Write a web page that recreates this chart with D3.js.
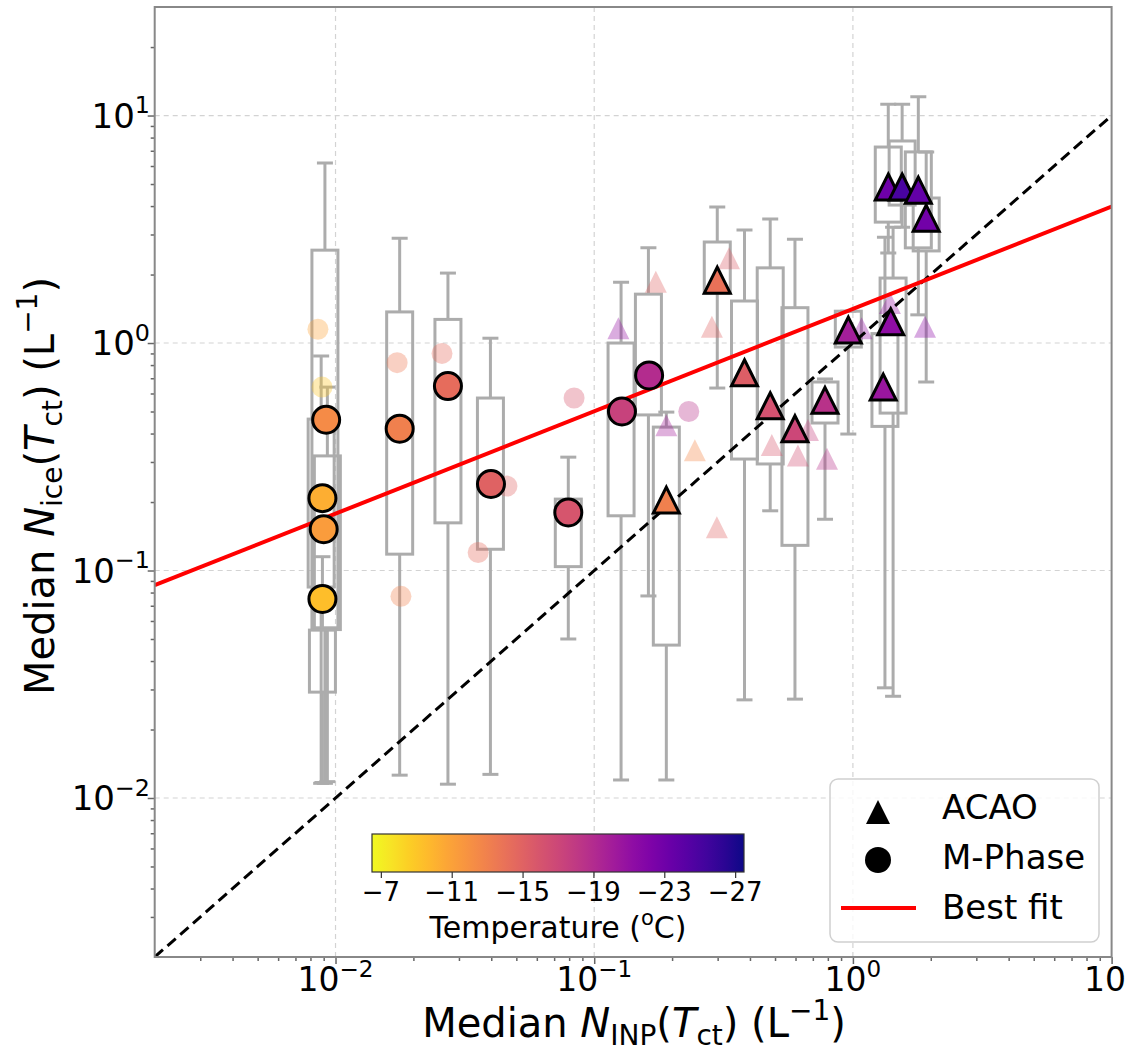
<!DOCTYPE html>
<html>
<head>
<meta charset="utf-8">
<script src="https://cdn.jsdelivr.net/npm/d3@7"></script>
<style>
  body { margin: 0; background: #fff; }
  text { font-family: "DejaVu Sans", sans-serif; white-space: pre; }
</style>
</head>
<body>
<svg id="chart"></svg>
<script>
// ---- data ----
// box plots of N_ice : x position, lower whisker, Q1, Q3, upper whisker
var boxX    = [0.0091, 0.0088, 0.0093, 0.0089, 0.0177, 0.0272, 0.0397, 0.0794, 0.127, 0.162, 0.19, 0.299, 0.381, 0.479, 0.597, 0.78, 0.96, 1.37, 1.55, 1.79, 1.92, 1.43, 1.33];
var boxLow  = [0.0116, 0.0116, 0.0118, 0.0117, 0.0126, 0.0115, 0.0127, 0.050, 0.012, 0.0773, 0.012, 0.634, 0.027, 0.183, 0.0272, 0.168, 0.398, 2.49, 3.23, 1.33, 0.674, 0.028, 0.0305];
var boxQ1   = [0.056, 0.0846, 0.055, 0.0292, 0.118, 0.162, 0.124, 0.104, 0.174, 0.483, 0.047, 1.66, 0.309, 0.294, 0.129, 0.445, 0.96, 3.40, 4.04, 2.62, 2.54, 0.492, 0.43];
var boxQ3   = [2.56, 0.463, 0.319, 0.0547, 1.37, 1.27, 0.573, 0.206, 1.0, 1.64, 0.427, 2.78, 1.53, 2.14, 1.43, 0.674, 1.38, 7.27, 7.73, 6.92, 4.34, 1.93, 1.1];
var boxHigh = [6.18, 0.877, 0.64, 0.115, 2.89, 2.03, 1.05, 0.315, 1.85, 2.62, 0.497, 3.96, 3.14, 3.51, 2.86, 0.695, 1.38, 11.2, 11.2, 12.1, 6.92, 3.23, 2.92];

// M-Phase medians (circles)
var mphaseX = [0.0092, 0.0089, 0.0090, 0.0089, 0.0177, 0.0272, 0.0399, 0.0794, 0.128, 0.163];
var mphaseY = [0.46, 0.208, 0.152, 0.075, 0.42, 0.647, 0.24, 0.18, 0.50, 0.72];
var mphaseT = [-12.4, -10.3, -11.3, -9.4, -13.0, -14.3, -15.1, -16.0, -17.4, -18.9];

// ACAO medians (triangles)
var acaoX = [0.19, 0.299, 0.381, 0.479, 0.597, 0.78, 0.96, 1.37, 1.55, 1.79, 1.92, 1.40, 1.31];
var acaoY = [0.204, 1.89, 0.74, 0.53, 0.42, 0.56, 1.14, 4.85, 4.85, 4.7, 3.54, 1.24, 0.64];
var acaoT = [-13.0, -14.0, -15.3, -16.2, -17.0, -18.5, -20.0, -23.1, -25.0, -23.7, -22.9, -21.2, -20.6];

// faint points (other cases)
var faintCircleX = [0.00855, 0.00887, 0.0173, 0.0179, 0.0258, 0.046, 0.0356, 0.0836, 0.232];
var faintCircleY = [1.15, 0.64, 0.82, 0.077, 0.90, 0.235, 0.12, 0.573, 0.50];
var faintCircleT = [-11, -9, -13.5, -13, -14.5, -15, -14.5, -16, -18.5];
var faintTriX = [0.124, 0.19, 0.245, 0.298, 0.173, 0.332, 0.285, 0.486, 0.613, 0.67, 0.794, 1.08, 1.39, 1.90];
var faintTriY = [1.16, 0.435, 0.338, 0.155, 1.86, 2.36, 1.18, 0.356, 0.32, 0.415, 0.31, 1.16, 1.5, 1.18];
var faintTriT = [-21, -20, -12.5, -15, -15, -15.5, -15, -16, -16.5, -17.5, -18.5, -21, -21, -21.5];

// best fit in log space: log10(y) = fitA + fitB * log10(x)
var fitA = 0.15, fitB = 0.45;

var xTicks = [0.01, 0.1, 1, 10];
var xTickExp = ["\u22122", "\u22121", "0", ""];   // last one is cut at the figure edge
var yTicks = [0.01, 0.1, 1, 10];
var yTickExp = ["\u22122", "\u22121", "0", "1"];
var cbTicks = [-7, -11, -15, -19, -23, -27];

// ---- layout ----
var W = 1127, H = 1054;
var margin = { top: 7, right: 15.4, bottom: 97, left: 154.7 };
var svg = d3.select("#chart").attr("width", W).attr("height", H);

var x = d3.scaleLog().domain([0.002, 10]).range([margin.left, W - margin.right]);
var y = d3.scaleLog().domain([0.002, 30]).range([H - margin.bottom, margin.top]);

var tempColor = function(t) { return d3.interpolatePlasma((t + 27.5) / 21); };

svg.append("clipPath").attr("id", "plotclip")
  .append("rect")
  .attr("x", x.range()[0]).attr("y", y.range()[1])
  .attr("width", x.range()[1] - x.range()[0])
  .attr("height", y.range()[0] - y.range()[1]);

// gridlines
var grid = svg.append("g").attr("stroke", "#d3d3d3").attr("stroke-width", 1.2).attr("stroke-dasharray", "5,4");
grid.selectAll(".gx").data(xTicks.slice(0, 3)).enter().append("line")
  .attr("x1", d => x(d)).attr("x2", d => x(d))
  .attr("y1", y.range()[0]).attr("y2", y.range()[1]);
grid.selectAll(".gy").data(yTicks).enter().append("line")
  .attr("y1", d => y(d)).attr("y2", d => y(d))
  .attr("x1", x.range()[0]).attr("x2", x.range()[1]);

var plot = svg.append("g").attr("clip-path", "url(#plotclip)");

// boxes
var bw = 26, cw = 16;
var boxes = plot.append("g").attr("stroke", "#acacac").attr("stroke-width", 3).attr("fill", "none");
boxX.forEach(function(bx, i) {
  var cx = x(bx);
  var g = boxes.append("g");
  g.append("line").attr("x1", cx).attr("x2", cx).attr("y1", y(boxQ3[i])).attr("y2", y(boxHigh[i]));
  g.append("line").attr("x1", cx).attr("x2", cx).attr("y1", y(boxQ1[i])).attr("y2", y(boxLow[i]));
  g.append("line").attr("x1", cx - cw / 2).attr("x2", cx + cw / 2).attr("y1", y(boxHigh[i])).attr("y2", y(boxHigh[i]));
  g.append("line").attr("x1", cx - cw / 2).attr("x2", cx + cw / 2).attr("y1", y(boxLow[i])).attr("y2", y(boxLow[i]));
  g.append("rect").attr("x", cx - bw / 2).attr("width", bw)
    .attr("y", y(boxQ3[i])).attr("height", y(boxQ1[i]) - y(boxQ3[i]));
});

function triPath(h) { return "M0," + (-h) + "L" + h + "," + h + "L" + (-h) + "," + h + "Z"; }

// faint markers
plot.append("g").selectAll("circle").data(faintCircleX).enter().append("circle")
  .attr("cx", d => x(d)).attr("cy", (d, i) => y(faintCircleY[i])).attr("r", 10.5)
  .attr("fill", (d, i) => tempColor(faintCircleT[i])).attr("opacity", 0.35);
plot.append("g").selectAll("path").data(faintTriX).enter().append("path")
  .attr("d", triPath(11))
  .attr("transform", (d, i) => "translate(" + x(d) + "," + y(faintTriY[i]) + ")")
  .attr("fill", (d, i) => tempColor(faintTriT[i])).attr("opacity", 0.35);

// 1:1 line and best fit
var line = d3.line().x(d => x(d[0])).y(d => y(d[1]));
plot.append("path").attr("d", line(x.domain().map(v => [v, v])))
  .attr("stroke", "#000").attr("stroke-width", 3).attr("stroke-dasharray", "11,6").attr("fill", "none");
plot.append("path").attr("d", line(x.domain().map(v => [v, Math.pow(10, fitA + fitB * Math.log10(v))])))
  .attr("stroke", "#ff0000").attr("stroke-width", 4).attr("fill", "none");

// solid markers
plot.append("g").selectAll("circle").data(mphaseX).enter().append("circle")
  .attr("cx", d => x(d)).attr("cy", (d, i) => y(mphaseY[i])).attr("r", 13.5)
  .attr("fill", (d, i) => tempColor(mphaseT[i])).attr("stroke", "#000").attr("stroke-width", 3);
plot.append("g").selectAll("path").data(acaoX).enter().append("path")
  .attr("d", triPath(13))
  .attr("transform", (d, i) => "translate(" + x(d) + "," + y(acaoY[i]) + ")")
  .attr("fill", (d, i) => tempColor(acaoT[i])).attr("stroke", "#000").attr("stroke-width", 3)
  .attr("stroke-linejoin", "miter");

// rich text helper (sub/superscripts)
function rich(t, parts, size) {
  var shift = 0;
  parts.forEach(function(p) {
    if (p.t === "") return;
    var target = p.sub ? 0.2 * size : p.sup ? -0.42 * size : 0;
    var ts = t.append("tspan").text(p.t).attr("dy", target - shift);
    shift = target;
    if (p.sub || p.sup) ts.attr("font-size", 0.7 * size);
    if (p.it) ts.attr("font-style", "italic");
  });
}

// axes
var axisColor = "#666";
function minorTicks(domain) {
  var out = [];
  for (var e = -3; e <= 1; e++) for (var m = 2; m <= 9; m++) {
    var v = m * Math.pow(10, e);
    if (v > domain[0] && v < domain[1]) out.push(v);
  }
  return out;
}
var xAxis = svg.append("g").attr("transform", "translate(0," + y.range()[0] + ")");
xAxis.call(d3.axisBottom(x).tickValues(xTicks).tickSize(7).tickFormat(""));
xAxis.append("g").call(d3.axisBottom(x).tickValues(minorTicks(x.domain())).tickSize(4).tickFormat(""));
var yAxis = svg.append("g").attr("transform", "translate(" + x.range()[0] + ",0)");
yAxis.call(d3.axisLeft(y).tickValues(yTicks).tickSize(7).tickFormat(""));
yAxis.append("g").call(d3.axisLeft(y).tickValues(minorTicks(y.domain())).tickSize(4).tickFormat(""));
svg.selectAll(".domain").remove();
svg.selectAll(".tick line").attr("stroke", axisColor).attr("stroke-width", 1.5);

var tickSize = 33;
xTicks.forEach(function(v, i) {
  var edge = xTickExp[i] === "";
  var t = svg.append("text").attr("x", edge ? W - 1 : x(v)).attr("y", 991)
    .attr("text-anchor", edge ? "end" : "middle")
    .attr("font-size", tickSize).attr("fill", "#000");
  rich(t, [{ t: "10" }, { t: xTickExp[i], sup: true }], tickSize);
});
yTicks.forEach(function(v, i) {
  var t = svg.append("text").attr("x", 150).attr("y", y(v) + 12).attr("text-anchor", "end")
    .attr("font-size", 34).attr("fill", "#000");
  rich(t, [{ t: "10" }, { t: yTickExp[i], sup: true }], 34);
});

// frame
svg.append("rect").attr("x", x.range()[0]).attr("y", y.range()[1])
  .attr("width", x.range()[1] - x.range()[0]).attr("height", y.range()[0] - y.range()[1])
  .attr("fill", "none").attr("stroke", "#888").attr("stroke-width", 2);

// axis titles
var titleSize = 40;
var xt = svg.append("text").attr("x", 634).attr("y", 1037).attr("text-anchor", "middle").attr("font-size", titleSize);
rich(xt, [{ t: "Median " }, { t: "N", it: true }, { t: "INP", sub: true }, { t: "(" }, { t: "T", it: true },
  { t: "ct", sub: true }, { t: ") (L" }, { t: "\u22121", sup: true }, { t: ")" }], titleSize);
var yt = svg.append("text").attr("transform", "translate(54,486) rotate(-90)").attr("text-anchor", "middle").attr("font-size", titleSize);
rich(yt, [{ t: "Median " }, { t: "N", it: true }, { t: "ice", sub: true }, { t: "(" }, { t: "T", it: true },
  { t: "ct", sub: true }, { t: ") (L" }, { t: "\u22121", sup: true }, { t: ")" }], titleSize);

// colorbar
var cb = d3.scaleLinear().domain([-6.5, -27.5]).range([372, 744]);
var cbTop = 834, cbH = 38;
var grad = svg.append("defs").append("linearGradient").attr("id", "plasmaGrad");
d3.range(0, 21).forEach(function(i) {
  var o = i / 20;
  grad.append("stop").attr("offset", o).attr("stop-color", tempColor(cb.invert(cb.range()[0] + o * (cb.range()[1] - cb.range()[0]))));
});
svg.append("rect").attr("x", cb.range()[0]).attr("y", cbTop).attr("width", cb.range()[1] - cb.range()[0]).attr("height", cbH)
  .attr("fill", "url(#plasmaGrad)").attr("stroke", "#333").attr("stroke-width", 1.2);
var cbAxis = svg.append("g").attr("transform", "translate(0," + (cbTop + cbH) + ")")
  .call(d3.axisBottom(cb).tickValues(cbTicks).tickSize(6).tickFormat(""));
cbAxis.select(".domain").remove();
cbAxis.selectAll(".tick line").attr("stroke", "#333").attr("stroke-width", 1.2);
cbTicks.forEach(function(v) {
  svg.append("text").attr("x", cb(v)).attr("y", 901).attr("text-anchor", "middle").attr("font-size", 26)
    .text(String(v).replace("-", "\u2212"));
});
var cbl = svg.append("text").attr("x", (cb.range()[0] + cb.range()[1]) / 2).attr("y", 938)
  .attr("text-anchor", "middle").attr("font-size", 30);
rich(cbl, [{ t: "Temperature (" }, { t: "o", sup: true }, { t: "C)" }], 30);

// legend
var lg = svg.append("g");
lg.append("rect").attr("x", 830).attr("y", 779).attr("width", 269).attr("height", 163).attr("rx", 8)
  .attr("fill", "#fff").attr("fill-opacity", 0.8).attr("stroke", "#d0d0d0").attr("stroke-width", 1.5);
lg.append("path").attr("d", triPath(12)).attr("transform", "translate(878,812)").attr("fill", "#000");
lg.append("circle").attr("cx", 878).attr("cy", 860).attr("r", 13).attr("fill", "#000");
lg.append("line").attr("x1", 841).attr("x2", 916).attr("y1", 908).attr("y2", 908).attr("stroke", "#ff0000").attr("stroke-width", 4);
[["ACAO", 819], ["M-Phase", 869], ["Best fit", 919]].forEach(function(d) {
  lg.append("text").attr("x", 942).attr("y", d[1]).attr("font-size", 34).text(d[0]);
});
</script>
</body>
</html>
